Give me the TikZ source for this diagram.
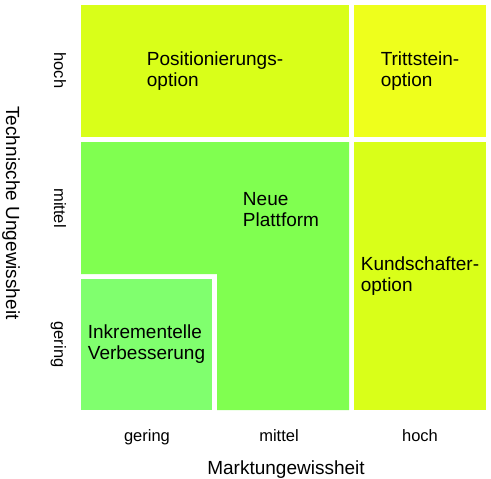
\documentclass[tikz,border=0pt]{standalone}
\usepackage{fontspec}
\setsansfont{Liberation Sans}
\definecolor{posGelb}{RGB}{217,255,25}
\definecolor{trittGelb}{RGB}{238,255,28}
\definecolor{plattGruen}{RGB}{128,255,80}
\definecolor{inkrGruen}{RGB}{128,255,110}
\begin{document}
\begin{tikzpicture}[x=1pt,y=-1pt,
  font=\sffamily,
  cell/.style={anchor=north west, inner sep=0pt, outer sep=0pt, align=left, font=\fontsize{19}{21}\sffamily},
  cellText/.style={align=left, inner sep=0pt, font=\fontsize{19}{21}\sffamily},
  tickText/.style={anchor=base, inner sep=0pt, font=\fontsize{16.5}{18}\sffamily},
  titleText/.style={anchor=base, inner sep=0pt, font=\fontsize{19}{21}\sffamily}]
\useasboundingbox (0,0) rectangle (491,479);

% The cells of the portfolio
\node[cell, fill=posGelb, minimum width=268pt, minimum height=132pt] (positionierung) at (81,5) {Positionierungs-\\option};
\node[cell, fill=trittGelb, minimum width=132pt, minimum height=132pt] (trittstein) at (354,5) {Trittstein-\\option};
\node[cell, fill=posGelb, minimum width=132pt, minimum height=268pt] (kundschafter) at (354,142) {Kundschafter-\\option};
\fill[plattGruen] (81,142) -| (349,410) -- (217,410) |- (81,274) -- cycle;
\node[cellText] (plattform) at (281,210) {Neue\\Plattform};
\node[cell, fill=inkrGruen, minimum width=131pt, minimum height=131pt] (inkrementell) at (81,279) {Inkrementelle\\Verbesserung};

% Axis ticks and titles
\foreach \name/\x in {gering/147, mittel/279, hoch/420}
  \node[tickText] (x-\name) at (\x,441) {\name};
\foreach \name/\y in {hoch/70.5, mittel/208, gering/344.5}
  \node[tickText, rotate=-90] (y-\name) at (54,\y) {\name};
\node[titleText] (xTitle) at (286,474) {Marktungewissheit};
\node[titleText, rotate=-90] (yTitle) at (6,213) {Technische Ungewissheit};
\end{tikzpicture}
\end{document}
